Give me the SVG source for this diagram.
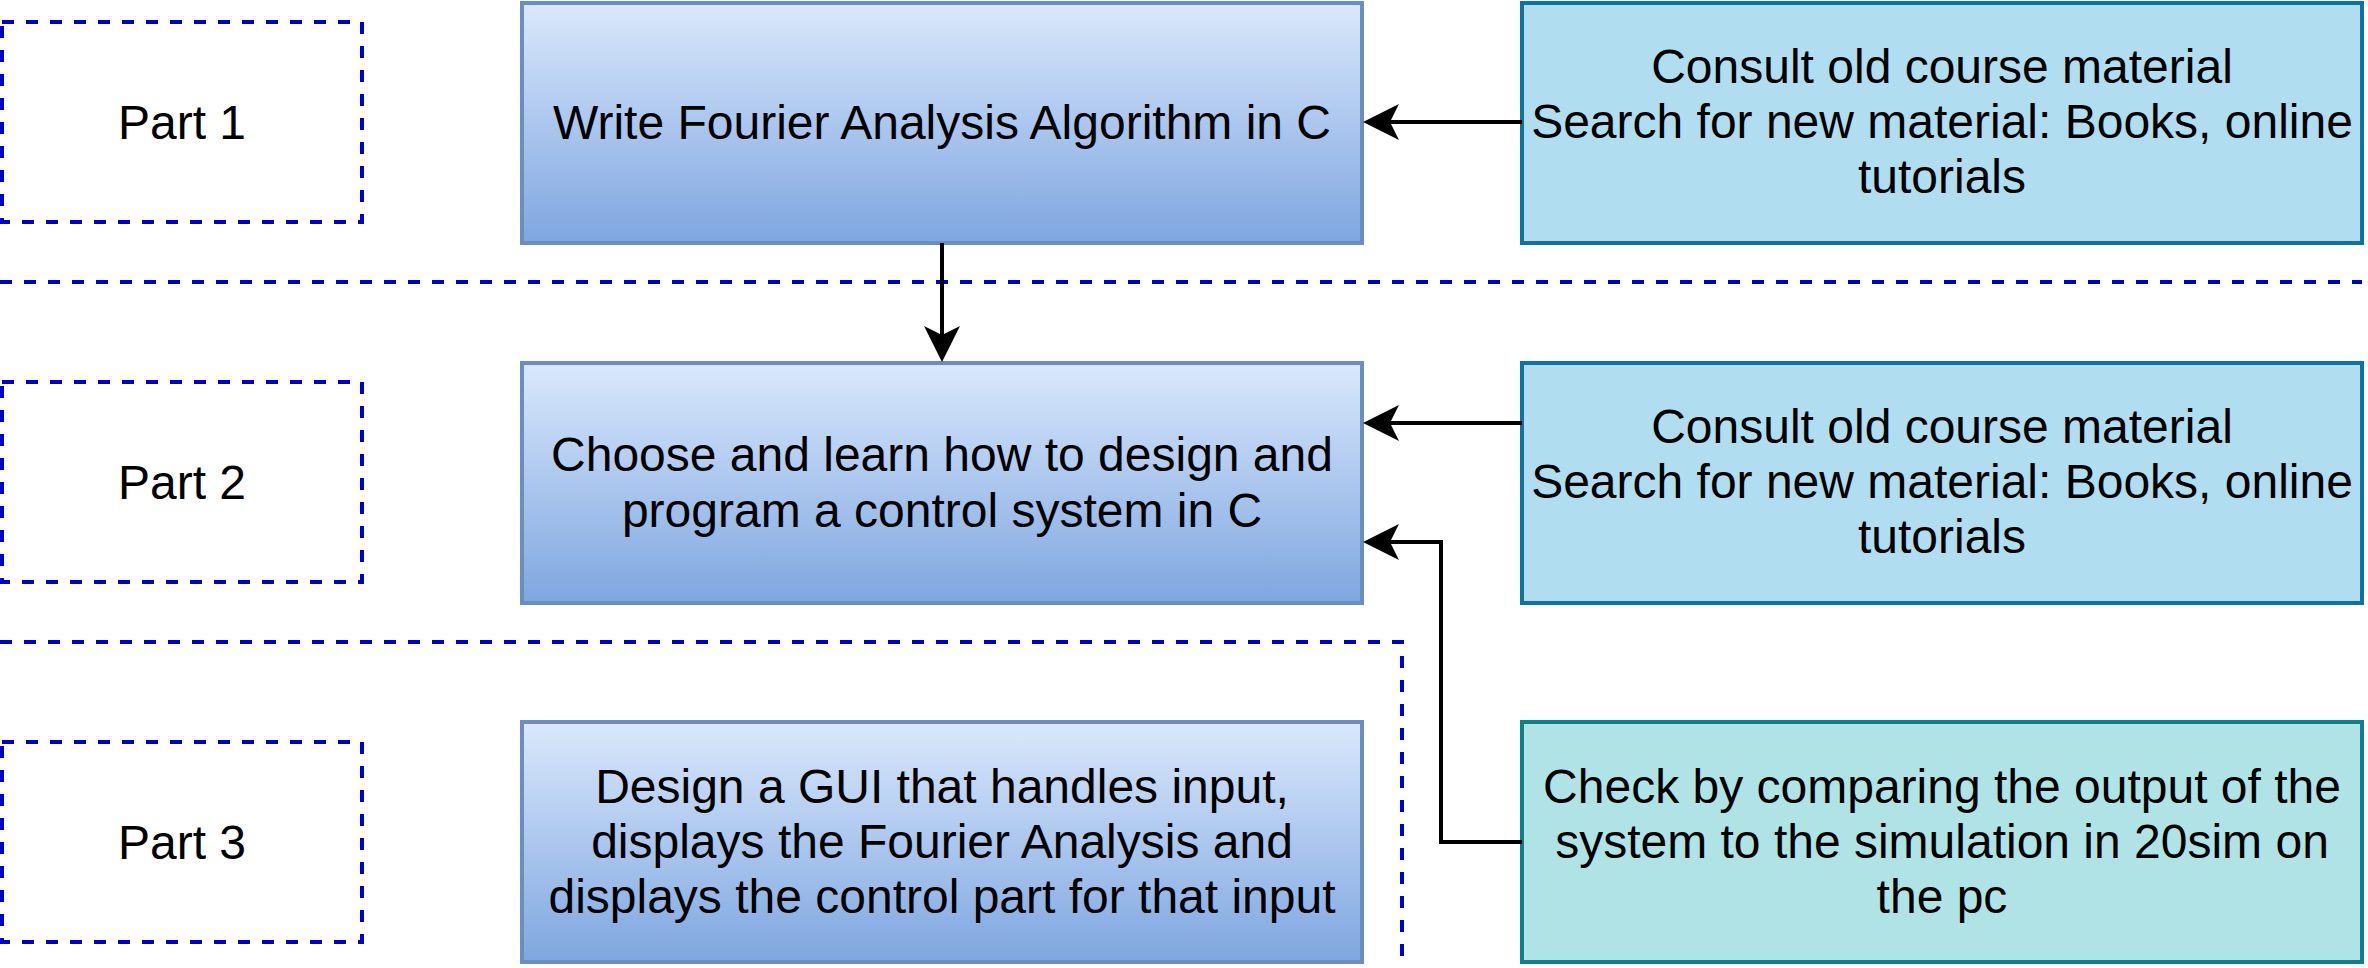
<svg xmlns="http://www.w3.org/2000/svg" width="2368" height="968" viewBox="0 0 2368 968">
<defs>
<linearGradient id="blueGrad" x1="0" y1="0" x2="0" y2="1">
<stop offset="0" stop-color="#dae8fc"/>
<stop offset="1" stop-color="#7ea6e0"/>
</linearGradient>
<marker id="arrow" markerUnits="userSpaceOnUse" viewBox="0 0 36 36" markerWidth="36" markerHeight="36" refX="9" refY="18" orient="auto" overflow="visible">
<path d="M0,0 L36,18 L0,36 L9,18 Z" fill="#000000"/>
</marker>
</defs>
<style>
text{font-family:"Liberation Sans",Arial,Helvetica,sans-serif;font-size:48px;fill:#000000;text-anchor:middle}
.part{fill:none;stroke:#0000CC;stroke-width:4;stroke-dasharray:12 12}
.divider{fill:none;stroke:#0000CC;stroke-width:4;stroke-dasharray:12 12}
.main{fill:url(#blueGrad);stroke:#6c8ebf;stroke-width:4}
.consult{fill:#b1ddf0;stroke:#10739e;stroke-width:4}
.check{fill:#b0e3e6;stroke:#0e8088;stroke-width:4}
.edge{fill:none;stroke:#000000;stroke-width:4;marker-end:url(#arrow)}
</style>
<rect width="2368" height="968" fill="#ffffff"/>
<g id="dividers">
<path class="divider" d="M0,282 H2362"/>
<path class="divider" d="M0,642 H1402 V968"/>
</g>
<g id="part1">
<rect class="part" x="2" y="22" width="360" height="200"/>
<text x="182" y="139">Part 1</text>
</g>
<g id="part2">
<rect class="part" x="2" y="382" width="360" height="200"/>
<text x="182" y="499">Part 2</text>
</g>
<g id="part3">
<rect class="part" x="2" y="742" width="360" height="200"/>
<text x="182" y="859">Part 3</text>
</g>
<g id="write-fourier">
<rect class="main" x="522" y="3" width="840" height="240"/>
<text x="942" y="139">Write Fourier Analysis Algorithm in C</text>
</g>
<g id="choose-control">
<rect class="main" x="522" y="363" width="840" height="240"/>
<text x="942" y="471">Choose and learn how to design and</text>
<text x="942" y="527">program a control system in C</text>
</g>
<g id="design-gui">
<rect class="main" x="522" y="722" width="840" height="240"/>
<text x="942" y="803">Design a GUI that handles input,</text>
<text x="942" y="858">displays the Fourier Analysis and</text>
<text x="942" y="913">displays the control part for that input</text>
</g>
<g id="consult-1">
<rect class="consult" x="1522" y="3" width="840" height="240"/>
<text x="1942" y="83">Consult old course material</text>
<text x="1942" y="138">Search for new material: Books, online</text>
<text x="1942" y="193">tutorials</text>
</g>
<g id="consult-2">
<rect class="consult" x="1522" y="363" width="840" height="240"/>
<text x="1942" y="443">Consult old course material</text>
<text x="1942" y="498">Search for new material: Books, online</text>
<text x="1942" y="553">tutorials</text>
</g>
<g id="check-sim">
<rect class="check" x="1522" y="722" width="840" height="240"/>
<text x="1942" y="803">Check by comparing the output of the</text>
<text x="1942" y="858">system to the simulation in 20sim on</text>
<text x="1942" y="913">the pc</text>
</g>
<g id="connectors">
<path class="edge" d="M1522,122 H1390"/>
<path class="edge" d="M942,243 V335"/>
<path class="edge" d="M1522,423 H1390"/>
<path class="edge" d="M1522,842 H1441 V542 H1390"/>
</g>
</svg>
